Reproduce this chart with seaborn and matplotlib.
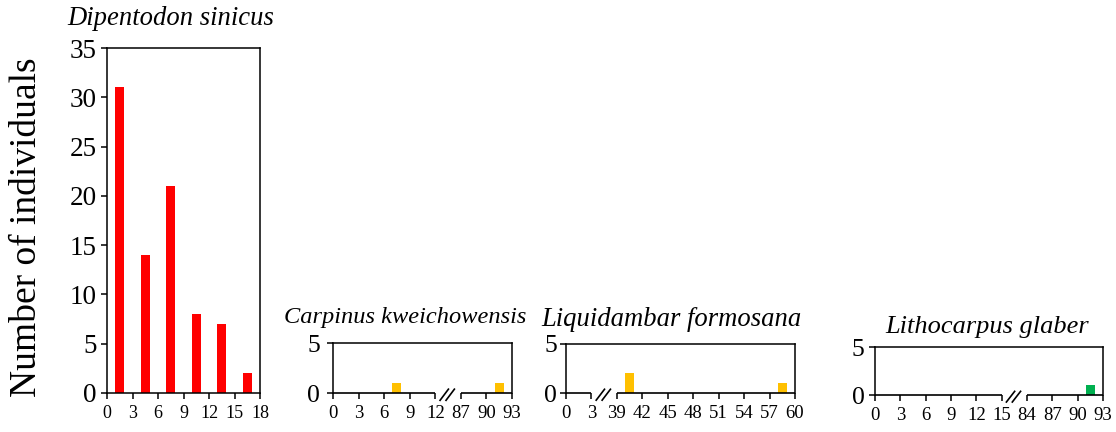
import numpy as np
import pandas as pd
import matplotlib
matplotlib.use("Agg")
import matplotlib.pyplot as plt
import seaborn as sns

# ---------------- data ----------------
dip_x = [1.5, 4.5, 7.5, 10.5, 13.5, 16.5]
dip_y = [31, 14, 21, 8, 7, 2]

carp_x = [7.5, 91.5]
carp_y = [1, 1]

liq_x = [40.5, 58.5]
liq_y = [2, 1]

lith_x = [91.5]
lith_y = [1]

dip_ticks = [0, 3, 6, 9, 12, 15, 18]
carp_ticks = [0, 3, 6, 9, 12, 87, 90, 93]
liq_ticks = [0, 3, 39, 42, 45, 48, 51, 54, 57, 60]
lith_ticks = [0, 3, 6, 9, 12, 15, 84, 87, 90, 93]

titles = ["Dipentodon sinicus", "Carpinus kweichowensis",
          "Liquidambar formosana", "Lithocarpus glaber"]
ylabel = "Number of individuals"

RED = "#FF0000"
YEL = "#FFC000"
GRN = "#00B050"

# ---------------- style ----------------
sns.set_style("ticks")
plt.rcParams["font.family"] = ["Liberation Serif", "DejaVu Serif"]
plt.rcParams["axes.linewidth"] = 1.1
plt.rcParams["xtick.major.width"] = 1.1
plt.rcParams["ytick.major.width"] = 1.1
plt.rcParams["xtick.major.size"] = 4
plt.rcParams["ytick.major.size"] = 4.5
plt.rcParams["xtick.color"] = "black"
plt.rcParams["ytick.color"] = "black"
plt.rcParams["xtick.labelcolor"] = "black"
plt.rcParams["ytick.labelcolor"] = "black"
plt.rcParams["text.color"] = "black"
plt.rcParams["axes.labelcolor"] = "black"
plt.rcParams["axes.edgecolor"] = "black"

W, H = 1116, 432
fig = plt.figure(figsize=(W / 100, H / 100), dpi=100)


def rect(l, r, t, b):
    return [l / W, (H - b) / H, (r - l) / W, (b - t) / H]


def broken(break_at, resume_at, gap_pos):
    def f(x):
        x = np.asarray(x, dtype=float)
        return np.where(x <= break_at, x, x - resume_at + gap_pos)
    return f


def draw_panel(ax, xs, ys, color, ticks, tf, xmax, ymax, yticks,
               seg=None, ylab_size=19, xlab_size=13, ypad=4):
    pos = tf(xs)
    uniq = np.unique(pos)
    nat = np.min(np.diff(uniq)) if len(uniq) > 1 else 1.0
    df = pd.DataFrame({"x": pos, "y": ys})
    sns.barplot(data=df, x="x", y="y", native_scale=True, color=color,
                saturation=1, errorbar=None, width=1.05 / nat,
                linewidth=0, ax=ax)
    ax.set_xlim(0, xmax)
    ax.set_ylim(0, ymax)
    ax.set_xticks(tf(ticks))
    ax.set_xticklabels([str(t) for t in ticks], fontsize=xlab_size,
                       color="black")
    ax.set_yticks(yticks)
    ax.set_yticklabels([str(t) for t in yticks], fontsize=ylab_size,
                       color="black")
    ax.set_xlabel("")
    ax.set_ylabel("")
    ax.tick_params(axis="x", pad=5)
    ax.tick_params(axis="y", pad=ypad)
    for s in ax.spines.values():
        s.set_visible(True)
        s.set_linewidth(1.1)
        s.set_color("black")
    if seg is not None:
        a = seg
        ax.spines["bottom"].set_visible(False)
        kw = dict(color="black", lw=1.2, clip_on=False, solid_capstyle="butt")
        ax.plot([0, a], [0, 0], **kw)
        ax.plot([a + 3, xmax], [0, 0], **kw)
        ax.plot([a + 0.5, a + 1.6], [-0.8, 0.45], **kw)
        ax.plot([a + 1.2, a + 2.3], [-0.8, 0.45], **kw)


# Panel 1
ax1 = fig.add_axes(rect(107, 260, 48, 393))
draw_panel(ax1, dip_x, dip_y, RED, dip_ticks, lambda x: np.asarray(x, float),
           18, 35, list(range(0, 36, 5)), ylab_size=19.5, ypad=3)

# Panel 2
ax2 = fig.add_axes(rect(333, 512, 343, 393))
draw_panel(ax2, carp_x, carp_y, YEL, carp_ticks, broken(12, 87, 15),
           21, 5, [0, 5], seg=12, ylab_size=18.5, xlab_size=13.5, ypad=5)

# Panel 3
ax3 = fig.add_axes(rect(566, 795, 344, 393))
draw_panel(ax3, liq_x, liq_y, YEL, liq_ticks, broken(3, 39, 6),
           27, 5, [0, 5], seg=3, ylab_size=18.5, xlab_size=13.5, ypad=2)

# Panel 4
ax4 = fig.add_axes(rect(875, 1103, 347, 395))
draw_panel(ax4, lith_x, lith_y, GRN, lith_ticks, broken(15, 84, 18),
           27, 5, [0, 5], seg=15, ylab_size=18.5, xlab_size=13.5, ypad=3)

# titles
for (cx, by, fs), t in zip([(171, 25, 19.2), (405, 323, 17.6),
                            (671, 326, 19.2), (987, 333, 19)], titles):
    fig.text(cx / W, (H - by) / H, t, ha="center", va="baseline",
             fontsize=fs, style="italic", color="black")

fig.text(27 / W, (H - 227) / H, ylabel, rotation=90, ha="center",
         va="center", fontsize=27, color="black")

fig.savefig("out.png", dpi=100)
